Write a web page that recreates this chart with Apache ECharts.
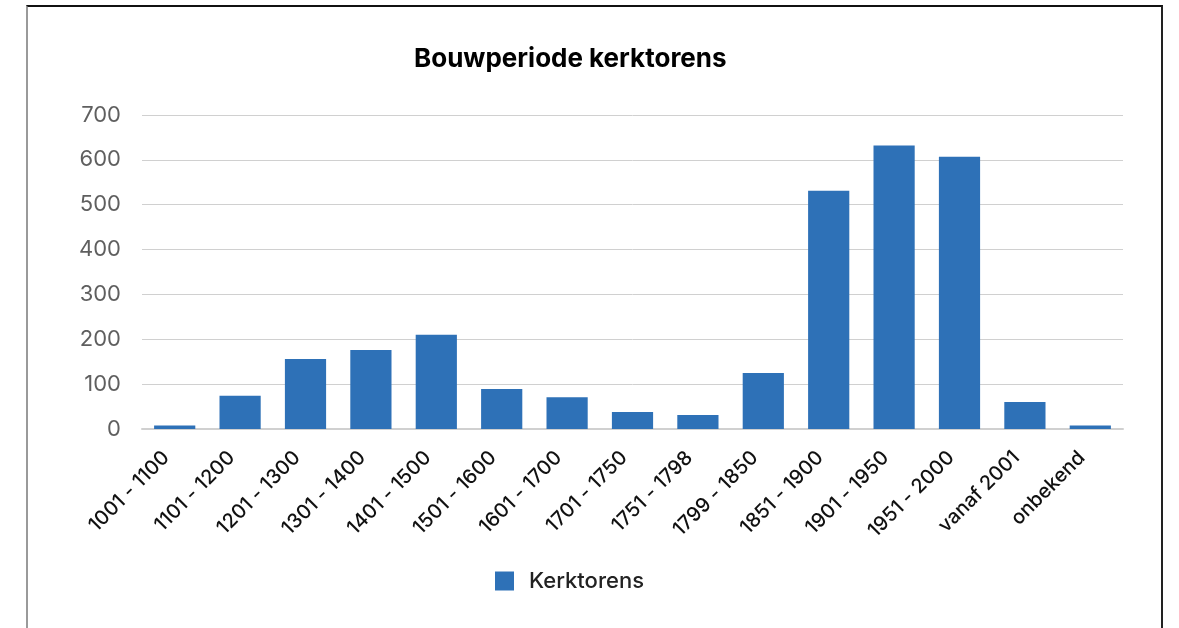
<!DOCTYPE html>
<html>
<head>
<meta charset="utf-8">
<title>Bouwperiode kerktorens</title>
<script src="https://cdn.jsdelivr.net/npm/echarts@6/dist/echarts.min.js"></script>
<style>
  html, body { margin: 0; padding: 0; background: #fff; overflow: hidden; }
  #frame {
    position: absolute; left: 26px; top: 5px; width: 1133px; height: 700px;
    border-top: 2px solid #111; border-right: 2px solid #222; border-left: 2px solid #9a9a9a;
  }
  #chart { position: absolute; left: 0; top: 0; width: 1179px; height: 628px; }
</style>
</head>
<body>
<div id="frame"></div>
<div id="chart"></div>
<script>
// bouwperiode categories
const periods = [
  '1001 - 1100', '1101 - 1200', '1201 - 1300', '1301 - 1400', '1401 - 1500',
  '1501 - 1600', '1601 - 1700', '1701 - 1750', '1751 - 1798', '1799 - 1850',
  '1851 - 1900', '1901 - 1950', '1951 - 2000', 'vanaf 2001', 'onbekend'
]
// aantal kerktorens per periode
const kerktorens = [8, 74, 156, 176, 210, 89, 71, 38, 31, 125, 531, 632, 607, 60, 8]
const yTicks = [0, 100, 200, 300, 400, 500, 600, 700]

const chart = echarts.init(document.getElementById('chart'))
const font = 'Inter, "Open Sans", sans-serif'

chart.setOption({
  animation: false,
  textStyle: { fontFamily: font },
  title: {
    text: 'Bouwperiode kerktorens',
    left: 414,
    top: 46,
    padding: 0,
    textStyle: { fontSize: 26, fontWeight: 'bold', color: '#000', fontFamily: font }
  },
  legend: {
    data: ['Kerktorens'],
    left: 495,
    top: 570,
    padding: 0,
    icon: 'rect',
    itemWidth: 19,
    itemHeight: 19,
    itemGap: 10,
    textStyle: { fontSize: 22, fontWeight: 500, color: '#222', padding: [0, 0, 0, 10] }
  },
  grid: {
    left: 142,
    right: 56,
    top: 115,
    bottom: 199,
    outerBoundsMode: 'none'
  },
  xAxis: {
    type: 'category',
    data: periods,
    axisTick: { show: false },
    axisLine: { lineStyle: { color: '#d0d0d0', width: 2 } },
    axisLabel: {
      rotate: 45,
      interval: 0,
      margin: 17,
      fontSize: 20,
      fontWeight: 500,
      color: '#111',
      padding: [0, 12, 0, 0]
    }
  },
  yAxis: {
    type: 'value',
    min: yTicks[0],
    max: yTicks[yTicks.length - 1],
    interval: 100,
    axisLine: { show: false },
    axisTick: { show: false },
    splitLine: { lineStyle: { color: '#d0d0d0', width: 1 } },
    axisLabel: { fontSize: 22, color: '#5f5f5f', margin: 21 }
  },
  series: [
    {
      name: 'Kerktorens',
      type: 'bar',
      barWidth: '63%',
      itemStyle: { color: '#2e71b7' },
      data: kerktorens
    }
  ]
})
</script>
</body>
</html>
